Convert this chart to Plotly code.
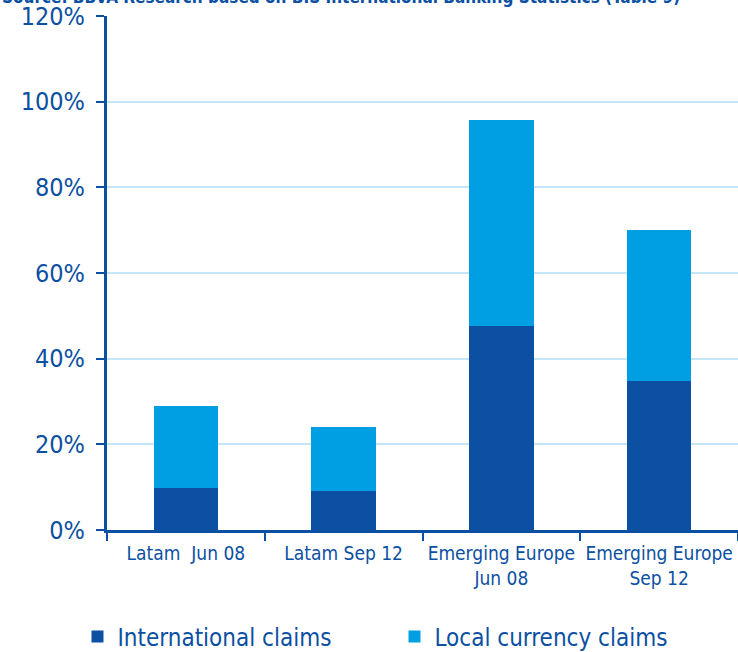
import plotly.graph_objects as go

categories = ["Latam  Jun 08", "Latam Sep 12", "Emerging Europe<br>Jun 08", "Emerging Europe<br>Sep 12"]
international_claims = [9.8, 9.1, 47.6, 34.8]
local_currency_claims = [19.1, 14.9, 48.1, 35.2]
y_ticks = [0, 20, 40, 60, 80, 100, 120]
y_tick_labels = ["0%", "20%", "40%", "60%", "80%", "100%", "120%"]

DARK = "#0B50A2"
LIGHT = "#009FE3"
FONT = "DejaVu Sans Condensed, Liberation Sans Narrow, Arial Narrow, sans-serif"

fig = go.Figure()
fig.add_bar(x=categories, y=international_claims, name="International claims",
            marker=dict(color=DARK, line=dict(width=0)), width=0.41)
fig.add_bar(x=categories, y=local_currency_claims, name="Local currency claims",
            marker=dict(color=LIGHT, line=dict(width=0)), width=0.41)

fig.update_layout(
    barmode="stack",
    width=738, height=652,
    margin=dict(l=107, r=0, t=16, b=122, autoexpand=False),
    plot_bgcolor="white", paper_bgcolor="white",
    font=dict(family=FONT, color=DARK),
    showlegend=True,
    legend=dict(orientation="h", xref="container", yref="container",
                x=0.105, y=0.023, xanchor="left", yanchor="middle",
                font=dict(size=24, color=DARK), entrywidth=272,
                traceorder="normal", itemwidth=30),
    bargap=0.59,
)
fig.update_yaxes(range=[0, 120], tickvals=y_ticks, ticktext=y_tick_labels,
                 showgrid=True, gridcolor="#C4E5F5", gridwidth=2,
                 showline=True, linecolor=DARK, linewidth=3,
                 ticks="outside", ticklen=8, tickwidth=2, tickcolor=DARK,
                 ticklabelstandoff=6, automargin=False,
                 tickfont=dict(size=25, color=DARK), zeroline=False)
fig.update_xaxes(showline=True, linecolor=DARK, linewidth=3,
                 ticks="outside", ticklen=8, tickwidth=2, tickcolor=DARK,
                 tickson="boundaries", tickangle=0, automargin=False,
                 ticklabelstandoff=4,
                 tickfont=dict(size=19, color=DARK))

fig.add_annotation(text="<b>Source: BBVA Research based on BIS International Banking Statistics (Table 9)</b>",
                   xref="paper", yref="paper", x=-0.17, y=1.0, yshift=19,
                   xanchor="left", yanchor="middle", showarrow=False,
                   font=dict(size=17, color=DARK, family=FONT))

fig.write_html("out.html")
